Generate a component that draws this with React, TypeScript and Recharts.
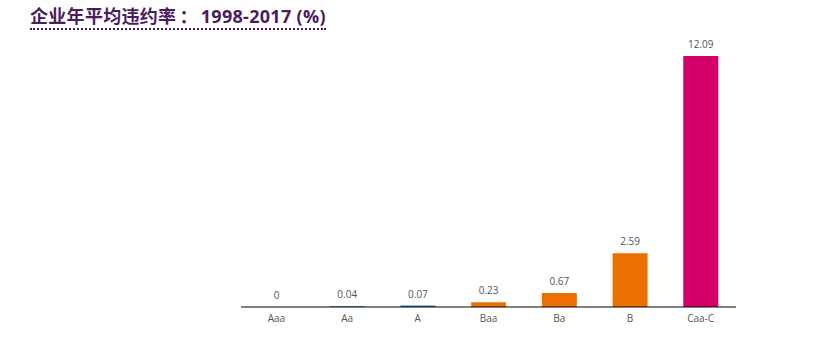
import React from 'react'
import { BarChart, Bar, XAxis, YAxis, Cell, LabelList } from 'recharts'

const ratings = ['Aaa', 'Aa', 'A', 'Baa', 'Ba', 'B', 'Caa-C']
const defaultRates = [0, 0.04, 0.07, 0.23, 0.67, 2.59, 12.09]
const barColors = ['transparent', '#2b7bb3', '#2b7bb3', '#ec7000', '#ec7000', '#ec7000', '#d4006a']

const data = ratings.map((r, i) => ({ rating: r, rate: defaultRates[i] }))

const App: React.FC = () => {
  return (
    <div style={{ position: 'absolute', left: 0, top: 0, width: 819, height: 357, background: '#fff', fontFamily: '"Open Sans", "Noto Sans CJK SC", sans-serif' }}>
      <div
        style={{
          position: 'absolute',
          left: 30,
          top: 4,
          fontSize: 18,
          fontWeight: 700,
          letterSpacing: 0.3,
          color: '#4b1d5c',
          borderBottom: '2px dotted #4b1d5c',
          lineHeight: '24px',
        }}
      >
        企业年平均违约率<span style={{ margin: '0 3px' }}>：</span>1998-2017 (%)
      </div>
      <BarChart
        width={819}
        height={357}
        data={data}
        margin={{ top: 56, right: 83, bottom: 20, left: 241 }}
        barSize={35}
      >
        <XAxis
          dataKey="rating"
          tickLine={false}
          axisLine={{ stroke: '#000', strokeWidth: 1 }}
          tick={{ fill: '#555', fontSize: 10 }}
        />
        <YAxis hide domain={[0, 'dataMax']} />
        <Bar
          dataKey="rate"
          isAnimationActive={false}
          minPointSize={(v: number) => (v === 0 ? 0.5 : 0)}
        >
          {data.map((d, i) => (
            <Cell key={d.rating} fill={barColors[i]} />
          ))}
          <LabelList dataKey="rate" position="top" offset={8} fill="#555" fontSize={10} />
        </Bar>
      </BarChart>
    </div>
  )
}

export default App
